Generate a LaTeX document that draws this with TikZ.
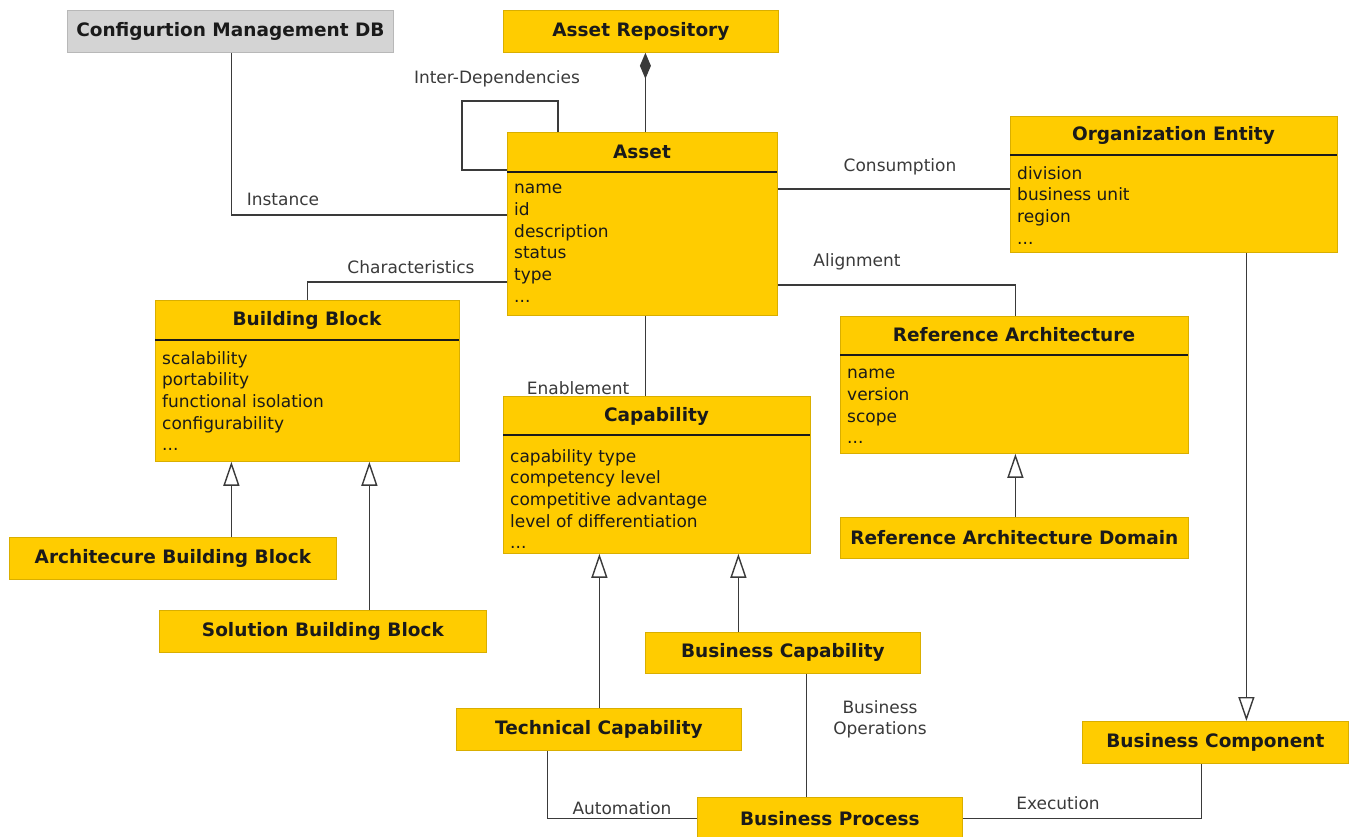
\documentclass[tikz,border=0pt]{standalone}
\usepackage{fontspec}
\setmainfont{DejaVu Sans}
\usetikzlibrary{arrows.meta}
\definecolor{gold}{HTML}{FFCC00}
\definecolor{goldedge}{HTML}{D9AE00}
\definecolor{greybox}{HTML}{D4D4D4}
\definecolor{greyedge}{HTML}{B8B8B8}
\definecolor{ink}{HTML}{1A1A1A}
\definecolor{wirec}{HTML}{3A3A3A}
\begin{document}
\begin{tikzpicture}[x=1pt,y=-1pt,
  box/.style={draw=goldedge, fill=gold, line width=0.8pt, inner sep=0pt, anchor=north west},
  greyb/.style={draw=greyedge, fill=greybox, line width=0.8pt, inner sep=0pt, anchor=north west},
  ttl/.style={font=\fontsize{18.5}{21}\selectfont\bfseries, text=ink},
  attr/.style={font=\fontsize{17}{21.7}\selectfont, text=ink, align=left, anchor=north west, inner sep=0pt},
  lbl/.style={font=\fontsize{17}{21}\selectfont, text=wirec, inner sep=0pt, align=center},
  sep/.style={draw=ink, line width=1.5pt},
  wire/.style={draw=wirec, line width=1.4pt},
  gen/.style={wire, -{Triangle[open, length=24pt, width=16pt, fill=white]}},
  comp/.style={wire, {Diamond[length=26pt, width=11pt]}-}
]
\useasboundingbox (0,0) rectangle (1352,837);

% ---------- boxes ----------
\node[greyb, ttl, minimum width=326pt, minimum height=42pt] (cmdb) at (67,10) {Configurtion Management DB};
\node[box, ttl, minimum width=275pt, minimum height=42pt] (repo) at (503,10) {Asset Repository};

% Asset
\node[box, minimum width=270pt, minimum height=183pt] (asset) at (507,132) {};
\node[ttl] (assetT) at (642,152) {Asset};
\draw[sep] (asset.north west) ++(0,40) -- ++(270,0);
\node[attr] (assetA) at (514,184) {name\\id\\description\\status\\type\\...};

% Organization Entity
\node[box, minimum width=327pt, minimum height=136pt] (org) at (1010,116) {};
\node[ttl] (orgT) at (1173.5,135) {Organization Entity};
\draw[sep] (org.north west) ++(0,39) -- ++(327,0);
\node[attr] (orgA) at (1017,166) {division\\business unit\\region\\...};

% Building Block
\node[box, minimum width=304pt, minimum height=161pt] (bb) at (155,300) {};
\node[ttl] (bbT) at (307,320) {Building Block};
\draw[sep] (bb.north west) ++(0,40) -- ++(304,0);
\node[attr] (bbA) at (162,351) {scalability\\portability\\functional isolation\\configurability\\...};

% Reference Architecture
\node[box, minimum width=348pt, minimum height=137pt] (ra) at (840,316) {};
\node[ttl] (raT) at (1014,335) {Reference Architecture};
\draw[sep] (ra.north west) ++(0,39) -- ++(348,0);
\node[attr] (raA) at (847,369) {name\\version\\scope\\...};

% Capability
\node[box, minimum width=307pt, minimum height=157pt] (cap) at (503,396) {};
\node[ttl] (capT) at (656.5,416) {Capability};
\draw[sep] (cap.north west) ++(0,39) -- ++(307,0);
\node[attr] (capA) at (510,449) {capability type\\competency level\\competitive advantage\\level of differentiation\\...};

% simple boxes
\node[box, ttl, minimum width=327pt, minimum height=42pt] (abb) at (9,537) {Architecure Building Block};
\node[box, ttl, minimum width=327pt, minimum height=42pt] (sbb) at (159,610) {Solution Building Block};
\node[box, ttl, minimum width=348pt, minimum height=41pt] (rad) at (840,517) {Reference Architecture Domain};
\node[box, ttl, minimum width=275pt, minimum height=41pt] (bcap) at (645,632) {Business Capability};
\node[box, ttl, minimum width=285pt, minimum height=42pt] (tech) at (456,708) {Technical Capability};
\node[box, ttl, minimum width=266pt, minimum height=42pt] (bcomp) at (1082,721) {Business Component};
\node[box, ttl, minimum width=265pt, minimum height=42pt] (bp) at (697,797) {Business Process};

% ---------- connectors ----------
\draw[comp] ([xshift=4.5pt]repo.south) -- ([xshift=4.5pt]repo.south |- asset.north);
\draw[wire] ([xshift=51pt]asset.north west) -- ++(0,-31) -- ++(-96,0) |- ([yshift=-38pt]asset.north west);
\draw[wire] ([xshift=1pt]cmdb.south) |- ([yshift=-83pt]asset.north west);
\draw[wire] ([yshift=-150pt]asset.north west) -| (bb.north);
\draw[wire] ([yshift=-57pt]asset.north east) -- ([yshift=-73pt]org.north west);
\draw[wire] ([yshift=-153pt]asset.north east) -| ([xshift=1pt]ra.north);
\draw[wire] ([xshift=3pt]asset.south) -- ([xshift=3pt]asset.south |- cap.north);

\draw[gen] ([xshift=58.5pt]abb.north) -- ([xshift=58.5pt]abb.north |- bb.south);
\draw[gen] ([xshift=46.5pt]sbb.north) -- ([xshift=46.5pt]sbb.north |- bb.south);
\draw[gen] ([xshift=1pt]rad.north) -- ([xshift=1pt]rad.north |- ra.south);
\draw[gen] ([xshift=0.5pt]tech.north) -- ([xshift=0.5pt]tech.north |- cap.south);
\draw[gen] ([xshift=-44.5pt]bcap.north) -- ([xshift=-44.5pt]bcap.north |- cap.south);
\draw[gen] ([xshift=72.5pt]org.south) -- ([xshift=72.5pt]org.south |- bcomp.north);

\draw[wire] ([xshift=23.5pt]bcap.south) -- ([xshift=23.5pt]bcap.south |- bp.north);
\draw[wire] ([xshift=-51.5pt]tech.south) |- (bp.west);
\draw[wire] (bp.east) -| ([xshift=-14pt]bcomp.south);

% ---------- labels ----------
\node[lbl] (lInter) at (497,79) {Inter-Dependencies};
\node[lbl] (lInst) at (283,199) {Instance};
\node[lbl] (lChar) at (411,267) {Characteristics};
\node[lbl] (lCons) at (900,167) {Consumption};
\node[lbl] (lAlign) at (857,262) {Alignment};
\node[lbl] (lEnab) at (578,388) {Enablement};
\node[lbl] (lOps) at (880,719) {Business\\Operations};
\node[lbl] (lAuto) at (622,808) {Automation};
\node[lbl] (lExec) at (1058,803) {Execution};
\end{tikzpicture}
\end{document}
